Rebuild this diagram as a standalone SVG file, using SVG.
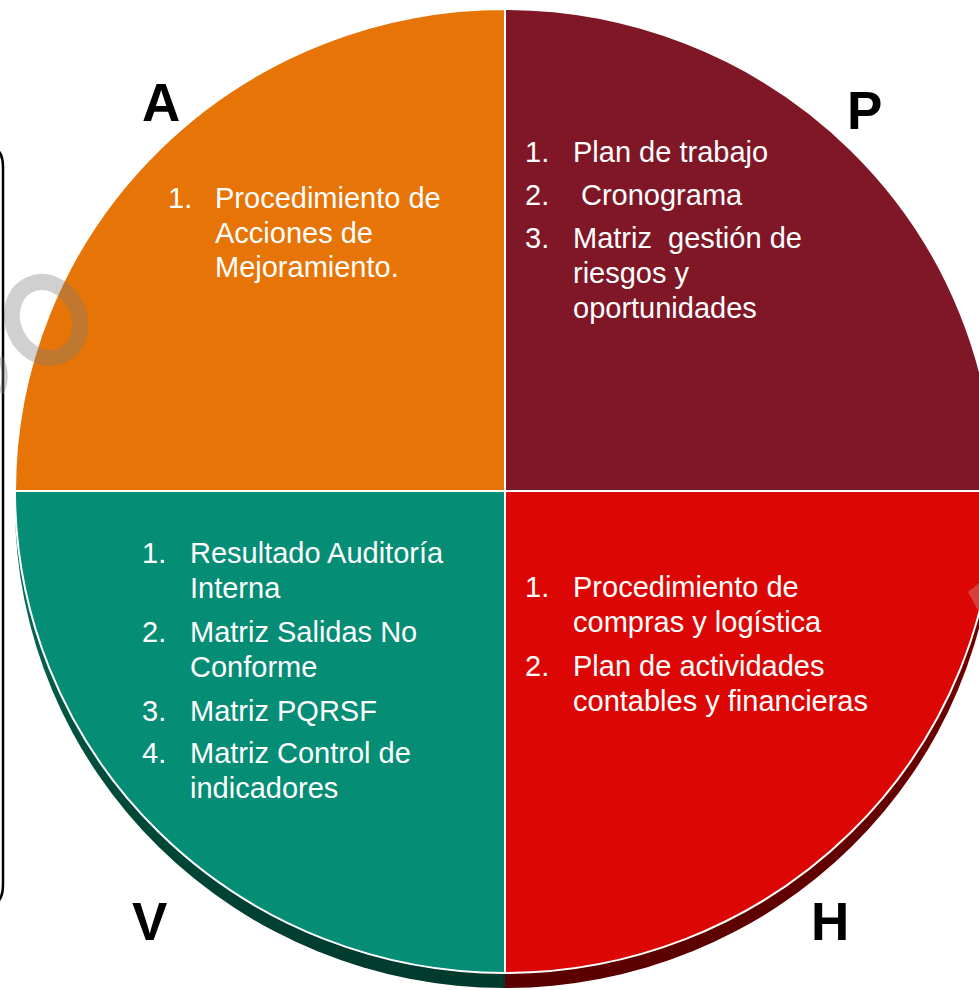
<svg xmlns="http://www.w3.org/2000/svg" width="979" height="990" viewBox="0 0 979 990">
  <defs>
    <linearGradient id="gShadow" x1="0" y1="0" x2="0" y2="1">
      <stop offset="0" stop-color="#0b7a60"/>
      <stop offset="0.5" stop-color="#03503e"/>
      <stop offset="1" stop-color="#003a2d"/>
    </linearGradient>
    <linearGradient id="rShadow" x1="0" y1="0" x2="0" y2="1">
      <stop offset="0" stop-color="#7a0000"/>
      <stop offset="1" stop-color="#5a0000"/>
    </linearGradient>
  </defs>
  <style>
    .q { stroke: #ffffff; stroke-width: 2; }
    .t { font-family: "Liberation Sans", Arial, sans-serif; font-size: 29px; fill: #ffffff; }
    .big { font-family: "Liberation Sans", Arial, sans-serif; font-size: 53px; font-weight: bold; fill: #000000; }
    .ring { fill: none; stroke: #7d7d7d; stroke-opacity: 0.36; }
  </style>
  <rect width="979" height="990" fill="#ffffff"/>

  <!-- frame edge at left -->
  <path d="M-12,147 Q3,147 3,167 L3,885 Q3,905 -12,905" fill="none" stroke="#000000" stroke-width="2.5"/>

  <!-- shadows of the lower half -->
  <path d="M505,491 L15,491 L15,506 A490,482 0 0 0 505,988 Z" fill="url(#gShadow)"/>
  <path d="M505,491 L505,988 A490,482 0 0 0 995,506 L995,491 Z" fill="url(#rShadow)"/>

  <g id="quadrant-A">
    <path class="q" d="M505,491 L15,491 A490,482 0 0 1 505,9 Z" fill="#e67406"/>
    <text class="t" x="168" y="208">1.</text>
    <text class="t" x="215" y="208">Procedimiento de</text>
    <text class="t" x="215" y="243">Acciones de</text>
    <text class="t" x="215" y="277">Mejoramiento.</text>
  </g>
  <g id="quadrant-P">
    <path class="q" d="M505,491 L505,9 A490,482 0 0 1 995,491 Z" fill="#7f1727"/>
    <text class="t" x="525" y="162">1.</text>
    <text class="t" x="573" y="162">Plan de trabajo</text>
    <text class="t" x="525" y="205">2.</text>
    <text class="t" x="581" y="205">Cronograma</text>
    <text class="t" x="525" y="248">3.</text>
    <text class="t" x="573" y="248" xml:space="preserve">Matriz  gestión de</text>
    <text class="t" x="573" y="283">riesgos y</text>
    <text class="t" x="573" y="318">oportunidades</text>
  </g>
  <g id="quadrant-H">
    <path class="q" d="M505,491 L995,491 A490,482 0 0 1 505,973 Z" fill="#dc0704"/>
    <text class="t" x="525" y="597">1.</text>
    <text class="t" x="573" y="597">Procedimiento de</text>
    <text class="t" x="573" y="632">compras y logística</text>
    <text class="t" x="525" y="676">2.</text>
    <text class="t" x="573" y="676">Plan de actividades</text>
    <text class="t" x="573" y="711">contables y financieras</text>
  </g>
  <g id="quadrant-V">
    <path class="q" d="M505,491 L505,973 A490,482 0 0 1 15,491 Z" fill="#068d75"/>
    <text class="t" x="142" y="563">1.</text>
    <text class="t" x="190" y="563">Resultado Auditoría</text>
    <text class="t" x="190" y="598">Interna</text>
    <text class="t" x="142" y="642">2.</text>
    <text class="t" x="190" y="642">Matriz Salidas No</text>
    <text class="t" x="190" y="677">Conforme</text>
    <text class="t" x="142" y="721">3.</text>
    <text class="t" x="190" y="721">Matriz PQRSF</text>
    <text class="t" x="142" y="763">4.</text>
    <text class="t" x="190" y="763">Matriz Control de</text>
    <text class="t" x="190" y="798">indicadores</text>
  </g>

  <!-- letters -->
  <text class="big" x="142" y="121">A</text>
  <text class="big" x="847" y="129">P</text>
  <text class="big" x="132" y="940">V</text>
  <text class="big" x="811" y="940">H</text>

  <!-- translucent rings -->
  <ellipse class="ring" cx="46" cy="320" rx="33" ry="39" transform="rotate(-25 46 320)" stroke-width="16"/>
  <path class="ring" d="M0,357 Q9,375 1,393" stroke-width="6"/>
  <path d="M979,583 L968,592 L979,612 Z" fill="#c8c8c8" fill-opacity="0.3"/>
</svg>
